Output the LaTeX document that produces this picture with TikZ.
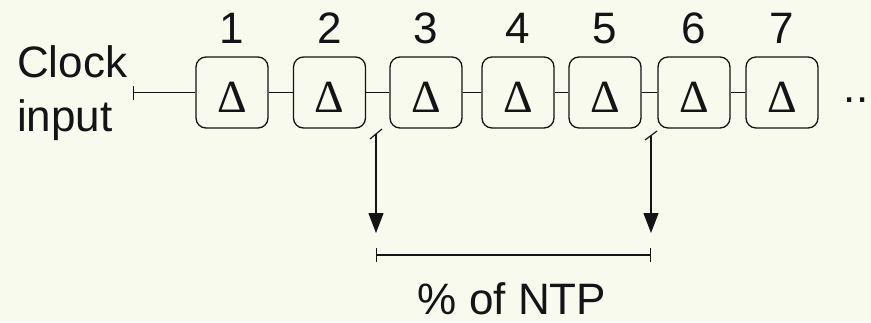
\documentclass[tikz,border=0pt]{standalone}
\usepackage{fontspec}
\setmainfont{Liberation Sans}
\newfontfamily\dserif{Liberation Serif}
\usetikzlibrary{arrows.meta}
\definecolor{bgcol}{RGB}{248,250,238}
\definecolor{ink}{RGB}{20,20,20}
\tikzset{
  delaybox/.style={draw=ink, line width=1.3pt, rounded corners=10pt, minimum width=72pt, minimum height=71pt, inner sep=0pt},
  deltxt/.style={font=\dserif\fontsize{46}{46}\selectfont, anchor=base, inner sep=0pt, text=ink},
  numlabel/.style={font=\fontsize{44}{44}\selectfont, anchor=base, inner sep=0pt, text=ink},
  bigtext/.style={font=\fontsize{44}{52}\selectfont, inner sep=0pt, text=ink},
  wire/.style={draw=ink, line width=1.2pt},
  downarrow/.style={draw=ink, line width=1.3pt, -{Triangle[width=15pt,length=20pt]}},
}
\begin{document}
\begin{tikzpicture}[x=1pt,y=-1pt]
\fill[bgcol] (0,0) rectangle (871,322);
\useasboundingbox (0,0) rectangle (871,322);
% boxes
\foreach \i/\x in {1/232,2/329.5,3/426,4/518,5/605,6/694,7/782}{
  \node[delaybox] (b\i) at (\x,92.5) {};
  \node[deltxt] (d\i) at (\x,112) {Δ};
  \node[numlabel] (n\i) at (\x,43) {\i};
}
% wires
\foreach \a/\b in {1/2,2/3,3/4,4/5,5/6,6/7}{
  \draw[wire] (b\a.east) -- (b\b.west);
}
\coordinate (clk) at (133,92.5);
\draw[wire, {Bar[width=14pt]}-] (clk) -- (b1.west);
% labels
\node[bigtext, anchor=base west] (clock) at (17,77) {Clock};
\node[bigtext, anchor=base west] (input) at (17,131) {input};
\node[numlabel] (dots) at (856,102) {..};
% arrows
\coordinate (s1a) at (370,139);
\coordinate (s1b) at (382,129);
\coordinate (a1s) at (376,134);
\coordinate (a1e) at (376,233);
\coordinate (s2a) at (645,140);
\coordinate (s2b) at (657,131);
\coordinate (a2s) at (651,136);
\coordinate (a2e) at (651,233);
\draw[wire] (s1a) -- (s1b);
\draw[wire] (s2a) -- (s2b);
\draw[downarrow] (a1s) -- (a1e);
\draw[downarrow] (a2s) -- (a2e);
% span
\coordinate (spL) at (376,255);
\coordinate (spR) at (651,255);
\draw[wire, {Bar[width=14pt]}-{Bar[width=14pt]}] (spL) -- (spR);
\node[numlabel, anchor=base, text depth=0pt] (ntp) at (512,314) {\% of NTP};
\end{tikzpicture}
\end{document}
